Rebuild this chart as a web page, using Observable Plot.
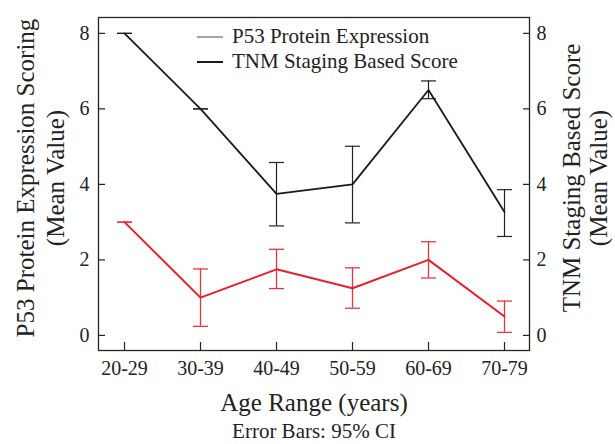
<!DOCTYPE html>
<html>
<head>
<meta charset="utf-8">
<script src="https://cdn.jsdelivr.net/npm/d3@7"></script>
<script src="https://cdn.jsdelivr.net/npm/@observablehq/plot@0.6"></script>
<style>
  html, body { margin: 0; padding: 0; background: #fff; }
  #wrap { position: relative; width: 615px; height: 444px; font-family: "Liberation Serif", "DejaVu Serif", serif; color: #222; }
  #legend { position: absolute; left: 197px; top: 24px; font-size: 21px; line-height: 25px; z-index: 2; }
  .row { display: flex; align-items: center; white-space: nowrap; }
  .sw { width: 26px; height: 0; border-top-width: 2px; border-top-style: solid; margin-right: 9px; }
</style>
</head>
<body>
<div id="wrap"><div id="legend"></div></div>
<script>
// ---- data ----
const ages = ["20-29", "30-39", "40-49", "50-59", "60-69", "70-79"];
const p53Mean = [3.0, 1.0, 1.75, 1.25, 2.0, 0.5];
const p53Low  = [3.0, 0.24, 1.24, 0.72, 1.52, 0.08];
const p53High = [3.0, 1.76, 2.28, 1.79, 2.48, 0.91];
const tnmMean = [8.0, 6.0, 3.75, 4.0, 6.5, 3.27];
const tnmLow  = [8.0, 6.0, 2.90, 2.98, 6.27, 2.62];
const tnmHigh = [8.0, 6.0, 4.58, 5.01, 6.74, 3.86];
const yTicks = [0, 2, 4, 6, 8];
const seriesNames = ["P53 Protein Expression", "TNM Staging Based Score"];
const legendColors = ["#a3a3a3", "#1a1a1a"];
const leftTitle = "P53 Protein Expression Scoring\n(Mean Value)";
const rightTitle = "TNM Staging Based Score\n(Mean Value)";
const xTitle = "Age Range (years)";
const caption = "Error Bars: 95% CI";

const RED = "#e8202a", BLACK = "#1a1a1a";
const p53 = ages.map((a, i) => ({age: a, mean: p53Mean[i], low: p53Low[i], high: p53High[i]}));
const tnm = ages.map((a, i) => ({age: a, mean: tnmMean[i], low: tnmLow[i], high: tnmHigh[i]}));

const capSymbol = {
  draw(ctx, size) {
    const w = Math.sqrt(size / Math.PI);
    ctx.moveTo(-w, 0); ctx.lineTo(w, 0);
  }
};

function errorMarks(data, color, sw) {
  return [
    Plot.ruleX(data, {x: "age", y1: "low", y2: "high", stroke: color, strokeWidth: sw}),
    Plot.dot(data, {x: "age", y: "low", symbol: capSymbol, r: 7.5, stroke: color, strokeWidth: sw, fill: "none"}),
    Plot.dot(data, {x: "age", y: "high", symbol: capSymbol, r: 7.5, stroke: color, strokeWidth: sw, fill: "none"})
  ];
}

const font = "'Liberation Serif', 'DejaVu Serif', serif";
const txt = {fontFamily: font, fill: "#222", textAnchor: "middle", lineAnchor: "middle"};
const chart = Plot.plot({
  width: 615,
  height: 444,
  marginLeft: 98,
  marginRight: 86,
  marginTop: 17,
  marginBottom: 94,
  style: {fontFamily: font, color: "#222", background: "#fff", overflow: "visible"},
  x: {type: "point", domain: ages, padding: 0.3},
  y: {domain: [-0.4, 8.42]},
  marks: [
    Plot.frame({stroke: "#222", strokeWidth: 1.3}),
    Plot.axisY(yTicks, {anchor: "left", tickSize: 0, tickPadding: 9, fontSize: 20, fontFamily: font, label: null}),
    Plot.axisY(yTicks, {anchor: "right", tickSize: 0, tickPadding: 7, fontSize: 20, fontFamily: font, label: null}),
    Plot.axisY(yTicks, {anchor: "left", tickSize: -7, tickFormat: () => "", label: null, stroke: "#222", strokeWidth: 1.2}),
    Plot.axisY(yTicks, {anchor: "right", tickSize: -7, tickFormat: () => "", label: null, stroke: "#222", strokeWidth: 1.2}),
    Plot.axisX({anchor: "bottom", tickSize: 0, tickPadding: 10, fontSize: 20, fontFamily: font, label: null}),
    Plot.axisX({anchor: "bottom", tickSize: -8, tickFormat: () => "", label: null, stroke: "#222", strokeWidth: 1.2}),
    ...errorMarks(tnm, "#222", 1.2),
    ...errorMarks(p53, "#ec3340", 1.3),
    Plot.line(tnm, {x: "age", y: "mean", stroke: BLACK, strokeWidth: 1.8}),
    Plot.line(p53, {x: "age", y: "mean", stroke: RED, strokeWidth: 2}),
    Plot.text([leftTitle], {...txt, text: d => d, frameAnchor: "left", rotate: -90, dx: -59, dy: -6, fontSize: 25, lineHeight: 1.2}),
    Plot.text([rightTitle], {...txt, text: d => d, frameAnchor: "right", rotate: -90, dx: 55, dy: -6, fontSize: 25, lineHeight: 1.1}),
    Plot.text([xTitle], {...txt, text: d => d, frameAnchor: "bottom", dy: 52, fontSize: 25}),
    Plot.text([caption], {...txt, text: d => d, frameAnchor: "bottom", dy: 81, fontSize: 21})
  ]
});
document.getElementById("wrap").prepend(chart);
chart.style.position = "absolute"; chart.style.left = "0"; chart.style.top = "0";

const legend = document.getElementById("legend");
seriesNames.forEach((name, i) => {
  const row = document.createElement("div");
  row.className = "row";
  const sw = document.createElement("span");
  sw.className = "sw";
  sw.style.borderTopColor = legendColors[i];
  const t = document.createElement("span");
  t.textContent = name;
  row.append(sw, t);
  legend.append(row);
});
</script>
</body>
</html>
